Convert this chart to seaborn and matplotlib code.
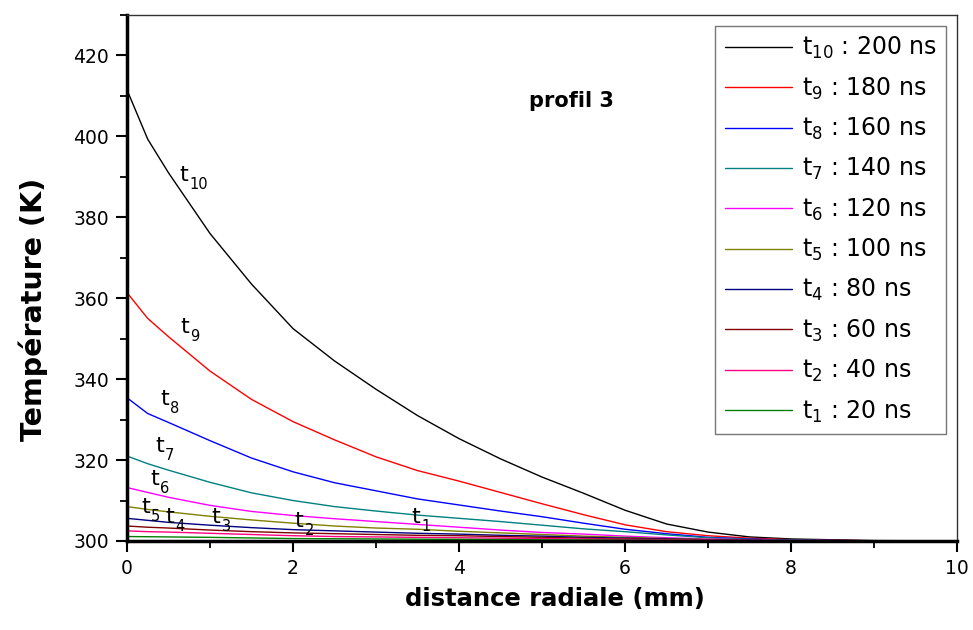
import numpy as np
import pandas as pd
import matplotlib
matplotlib.use('Agg')
import matplotlib.pyplot as plt
import seaborn as sns
from matplotlib.ticker import MultipleLocator

# Données (profil 3)
x_mm = [0, 0.25, 0.5, 1, 1.5, 2, 2.5, 3, 3.5, 4, 4.5, 5, 5.5, 6, 6.5, 7, 7.5, 8, 9, 10]

t10 = [411.5, 399.3, 391.0, 376.0, 363.5, 352.5, 344.5, 337.5, 331.0, 325.3, 320.3, 315.8, 311.8, 307.6, 304.2, 302.2, 301.0, 300.5, 300.1, 300.0]
t9 = [361.4, 355.0, 350.5, 342.0, 335.0, 329.5, 325.0, 320.8, 317.4, 314.8, 312.0, 309.2, 306.5, 304.0, 302.3, 301.3, 300.7, 300.3, 300.05, 300.0]
t8 = [335.4, 331.5, 329.3, 324.8, 320.5, 317.1, 314.4, 312.4, 310.4, 308.9, 307.4, 306.0, 304.4, 302.9, 301.8, 300.9, 300.5, 300.2, 300.05, 300.0]
t7 = [321.0, 319.1, 317.5, 314.5, 311.9, 310.0, 308.5, 307.4, 306.4, 305.6, 304.8, 303.9, 303.0, 302.3, 301.5, 300.8, 300.4, 300.2, 300.0, 300.0]
t6 = [313.2, 312.0, 310.8, 308.8, 307.3, 306.3, 305.5, 304.8, 304.1, 303.4, 302.7, 302.1, 301.7, 301.2, 300.8, 300.5, 300.3, 300.1, 300.0, 300.0]
t5 = [308.5, 307.8, 307.2, 306.1, 305.2, 304.4, 303.7, 303.2, 302.9, 302.4, 302.0, 301.6, 301.2, 300.9, 300.6, 300.4, 300.2, 300.1, 300.0, 300.0]
t4 = [305.6, 305.1, 304.6, 303.9, 303.3, 302.8, 302.5, 302.2, 301.9, 301.7, 301.4, 301.2, 300.9, 300.7, 300.5, 300.3, 300.2, 300.1, 300.0, 300.0]
t3 = [303.7, 303.4, 303.2, 302.7, 302.3, 302.0, 301.8, 301.6, 301.4, 301.3, 301.1, 300.9, 300.7, 300.5, 300.4, 300.2, 300.1, 300.05, 300.0, 300.0]
t2 = [302.5, 302.3, 302.2, 301.9, 301.6, 301.3, 301.1, 301.0, 300.9, 300.8, 300.7, 300.6, 300.5, 300.4, 300.3, 300.2, 300.1, 300.05, 300.0, 300.0]
t1 = [301.1, 301.05, 301.0, 300.9, 300.75, 300.6, 300.55, 300.5, 300.45, 300.4, 300.35, 300.3, 300.25, 300.2, 300.15, 300.1, 300.05, 300.0, 300.0, 300.0]

series = [t10, t9, t8, t7, t6, t5, t4, t3, t2, t1]
indices = [10, 9, 8, 7, 6, 5, 4, 3, 2, 1]
durees_ns = [200, 180, 160, 140, 120, 100, 80, 60, 40, 20]
couleurs = ['#000000', '#FF0000', '#0000FF', '#008080', '#FF00FF',
            '#808000', '#000080', '#800000', '#FF0080', '#008000']

# positions des étiquettes t_i sur les courbes (x en mm, T en K)
etiq_x = [0.63, 0.64, 0.40, 0.34, 0.28, 0.17, 0.46, 1.02, 2.02, 3.43]
etiq_y = [389.0, 351.3, 333.5, 321.9, 313.8, 306.9, 304.4, 304.4, 303.4, 304.4]

labels = [r'$\mathregular{t_{%d}}$ : %d ns' % (i, d) for i, d in zip(indices, durees_ns)]

df = pd.concat([
    pd.DataFrame({'x': x_mm, 'T': s, 'serie': lab})
    for s, lab in zip(series, labels)
], ignore_index=True)

sns.set_style('ticks')
plt.rcParams['font.family'] = ['DejaVu Sans']
plt.rcParams['mathtext.fontset'] = 'dejavusans'
for k in ['text.color', 'axes.labelcolor', 'xtick.color', 'ytick.color', 'axes.edgecolor']:
    plt.rcParams[k] = 'black'

fig = plt.figure(figsize=(9.73, 6.3), dpi=100)
ax = fig.add_axes([0.1305, 0.1413, 0.8531, 0.8349])

sns.lineplot(data=df, x='x', y='T', hue='serie', hue_order=labels,
             palette=couleurs, linewidth=1.0, sort=False, ax=ax)

# étiquettes t_i : "t" + indice décalé vers le bas
for i, xe, ye in zip(indices, etiq_x, etiq_y):
    ax.text(xe, ye, 't', fontsize=16, ha='left', va='baseline')
    ax.annotate(str(i), xy=(xe, ye), xytext=(10, -8), textcoords='offset pixels',
                fontsize=10.5, ha='left', va='baseline')

ax.text(4.84, 407.3, 'profil 3', fontsize=15, fontweight='bold', ha='left', va='baseline')

ax.set_xlim(0, 10)
ax.set_ylim(300, 430)
ax.xaxis.set_major_locator(MultipleLocator(2))
ax.xaxis.set_minor_locator(MultipleLocator(1))
ax.yaxis.set_major_locator(MultipleLocator(20))
ax.yaxis.set_minor_locator(MultipleLocator(10))
ax.set_yticks([300, 320, 340, 360, 380, 400, 420])
ax.tick_params(axis='both', which='major', direction='out', length=8, width=1.5,
               labelsize=13.5, pad=5, top=False, right=False)
ax.tick_params(axis='both', which='minor', direction='out', length=5, width=1.3,
               top=False, right=False)

for side in ['left', 'bottom']:
    ax.spines[side].set_linewidth(2.5)
for side in ['top', 'right']:
    ax.spines[side].set_linewidth(1.0)
    ax.spines[side].set_color('#333333')

ax.set_xlabel('distance radiale (mm)', fontsize=17.5, fontweight='bold')
ax.set_ylabel('Température (K)', fontsize=20.5, fontweight='bold')
ax.xaxis.set_label_coords(0.516, -0.087)
ax.yaxis.set_label_coords(-0.095, 0.44)

leg = ax.legend(loc='upper right', fontsize=17, frameon=True, fancybox=False,
                edgecolor='#555555', handlelength=2.85, handletextpad=0.42,
                labelspacing=0.6, borderpad=0.4, borderaxespad=0.45)
leg.get_frame().set_linewidth(1.0)

fig.savefig('out.png', dpi=100)
